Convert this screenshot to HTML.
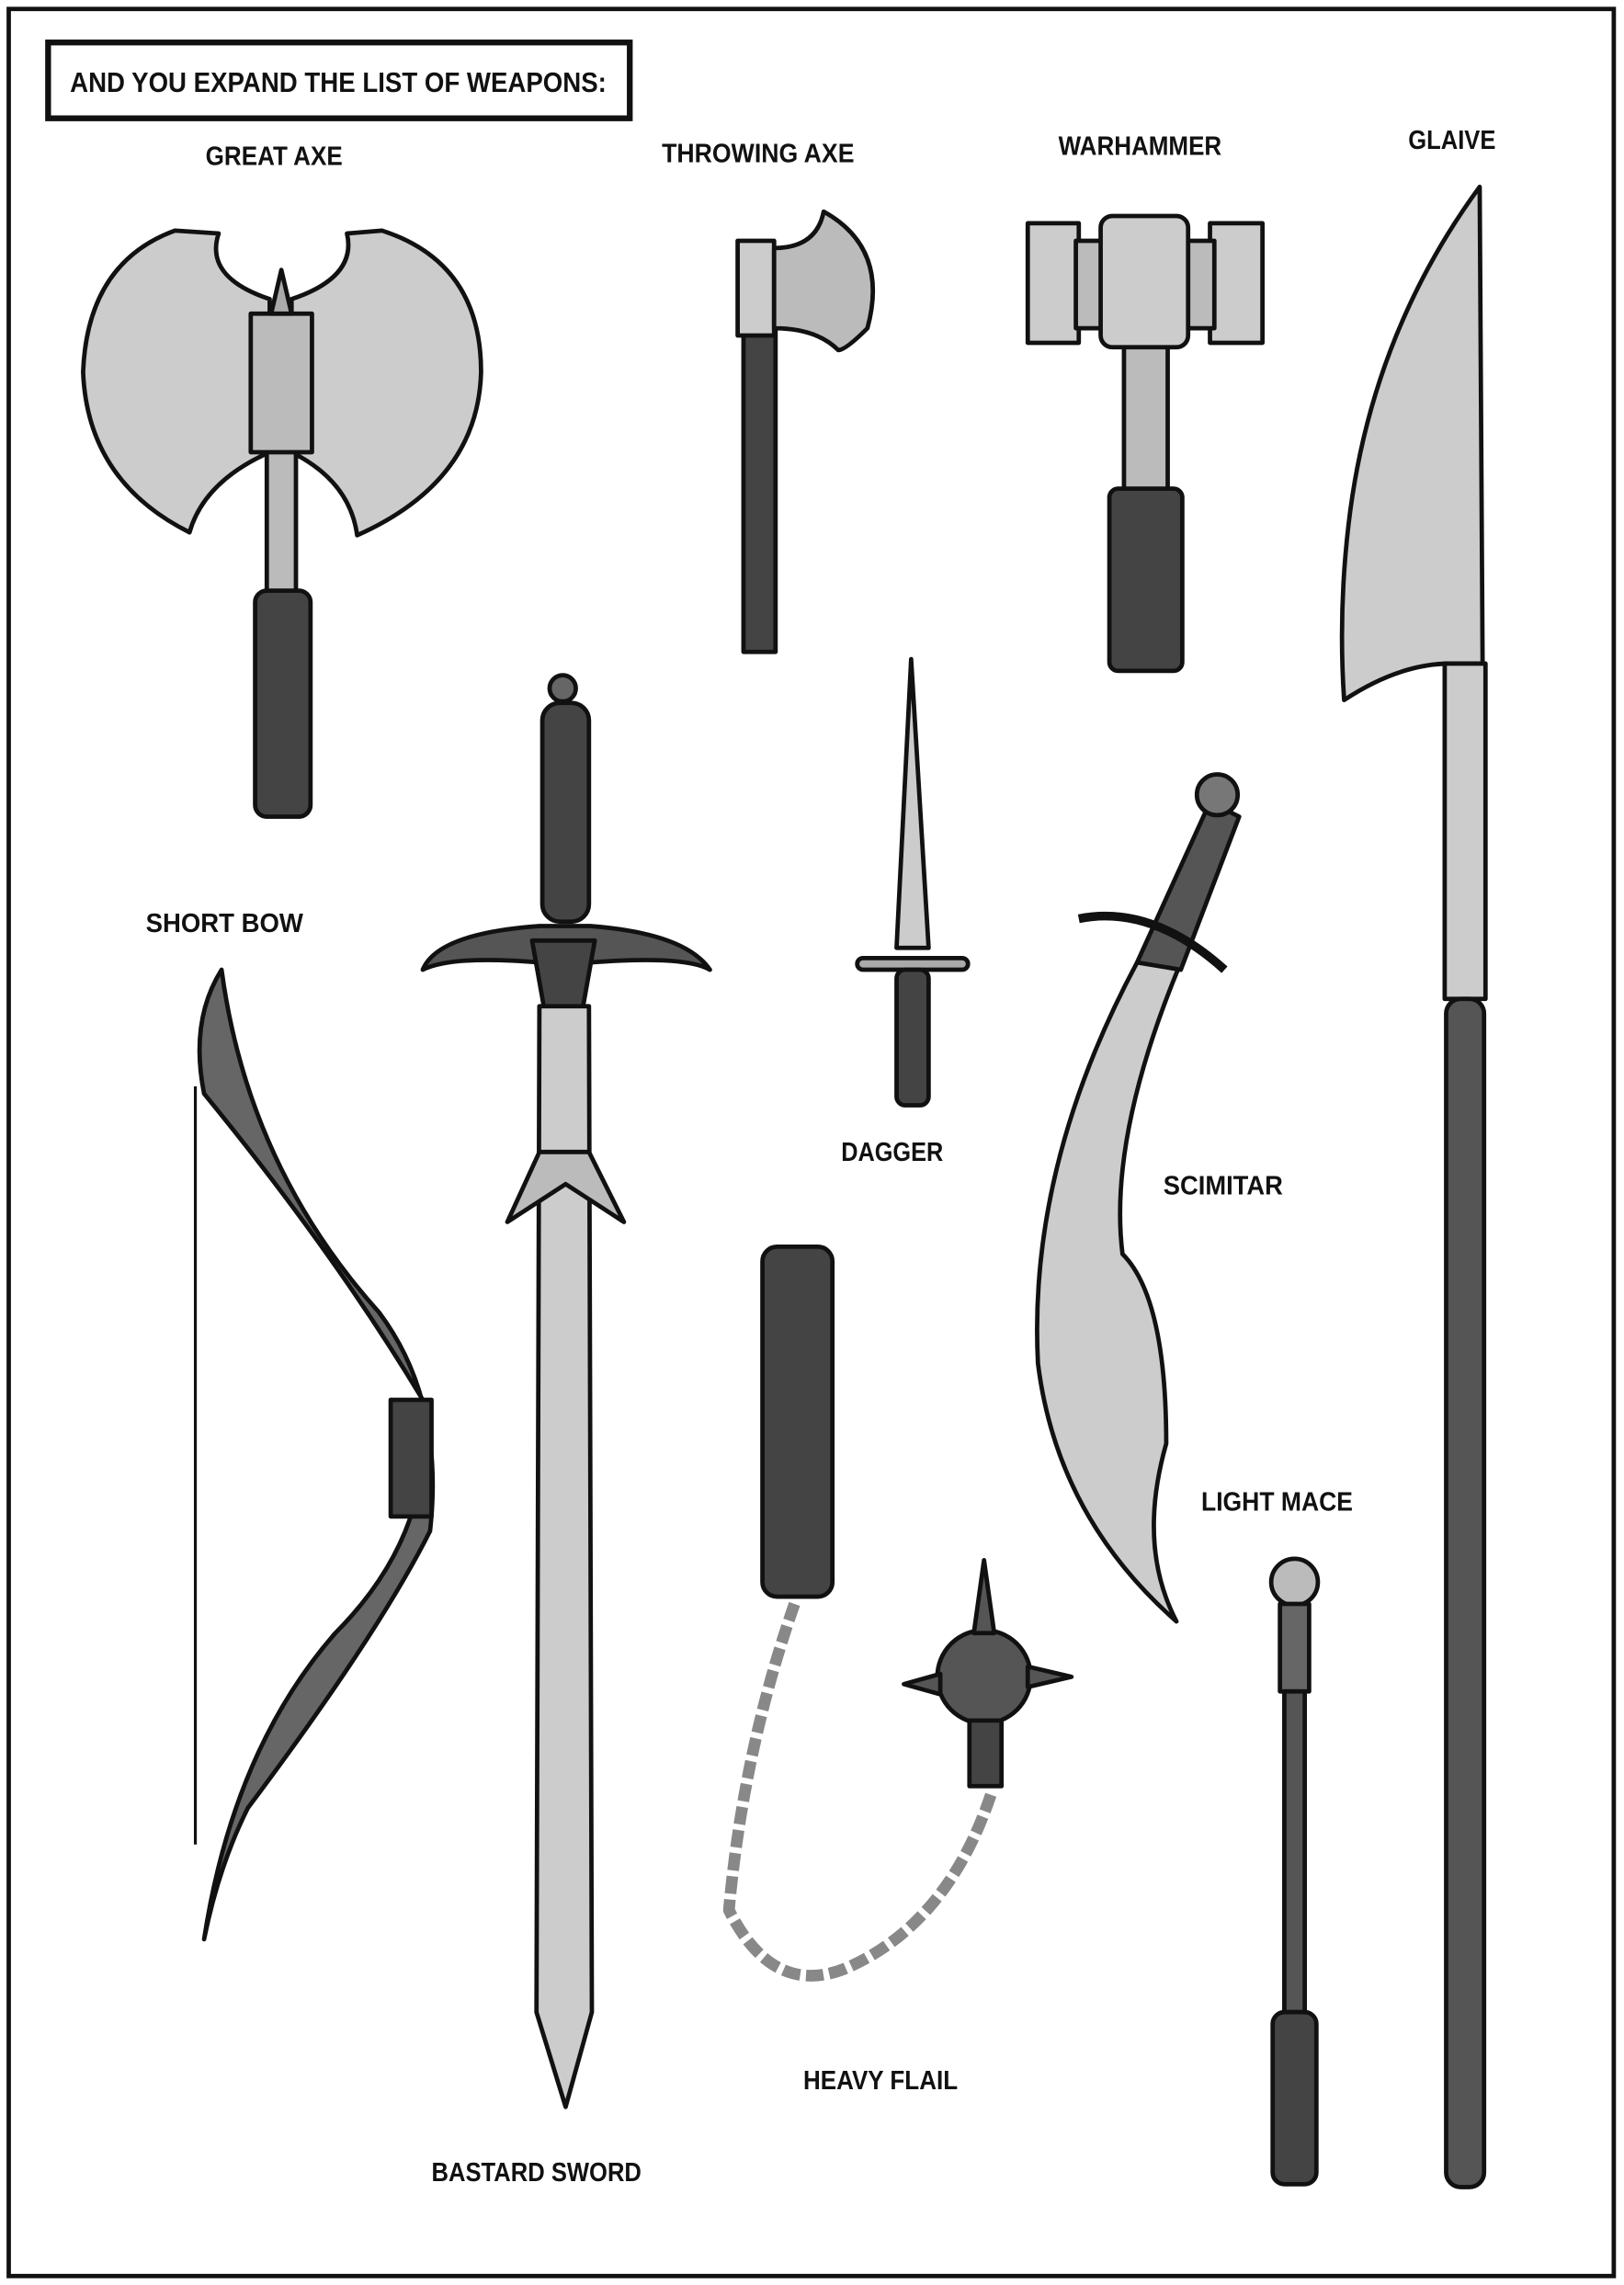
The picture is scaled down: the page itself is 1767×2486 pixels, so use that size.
<!DOCTYPE html>
<html><head><meta charset="utf-8"><style>
html,body{margin:0;padding:0;background:#fff}
svg{display:block}
text{font-family:"Liberation Sans",sans-serif;font-weight:bold;font-size:18px;text-anchor:middle;fill:#111}
</style></head><body>
<svg width="1767" height="2486" viewBox="0 0 1114 1567" xmlns="http://www.w3.org/2000/svg">
<rect x="0" y="0" width="1114" height="1567" fill="#fff"/>
<rect x="6" y="6" width="1101" height="1555" fill="none" stroke="#111" stroke-width="3"/>
<rect x="33" y="29" width="399" height="52" fill="#fff" stroke="#111" stroke-width="4"/>
<text x="232" y="63" textLength="368" lengthAdjust="spacingAndGlyphs" style="font-size:19px">AND YOU EXPAND THE LIST OF WEAPONS:</text>
<text x="188" y="113" textLength="94" lengthAdjust="spacingAndGlyphs">GREAT AXE</text>
<text x="520" y="111" textLength="132" lengthAdjust="spacingAndGlyphs">THROWING AXE</text>
<text x="782" y="106" textLength="112" lengthAdjust="spacingAndGlyphs">WARHAMMER</text>
<text x="996" y="102" textLength="60" lengthAdjust="spacingAndGlyphs">GLAIVE</text>
<text x="154" y="639" textLength="108" lengthAdjust="spacingAndGlyphs">SHORT BOW</text>
<text x="612" y="796" textLength="70" lengthAdjust="spacingAndGlyphs">DAGGER</text>
<text x="839" y="819" textLength="82" lengthAdjust="spacingAndGlyphs">SCIMITAR</text>
<text x="876" y="1036" textLength="104" lengthAdjust="spacingAndGlyphs">LIGHT MACE</text>
<text x="604" y="1433" textLength="106" lengthAdjust="spacingAndGlyphs">HEAVY FLAIL</text>
<text x="368" y="1496" textLength="144" lengthAdjust="spacingAndGlyphs">BASTARD SWORD</text>
<g stroke="#111" stroke-width="3" stroke-linejoin="round">
<path d="M120 158 Q60 180 57 255 Q60 330 130 365 Q140 330 185 310 L185 205 Q140 190 150 160 Z" fill="#ccc"/>
<path d="M262 158 Q330 180 330 255 Q328 330 245 367 Q240 330 200 310 L200 205 Q245 190 238 160 Z" fill="#ccc"/>
<rect x="183" y="300" width="20" height="110" fill="#bbb"/>
<rect x="172" y="215" width="42" height="95" fill="#bbb"/>
<path d="M186 215 L193 185 L200 215Z" fill="#aaa"/>
<rect x="175" y="405" width="38" height="155" rx="8" fill="#444"/>
<rect x="510" y="215" width="22" height="232" fill="#444"/>
<rect x="506" y="165" width="25" height="65" fill="#ccc"/>
<path d="M531 170 Q560 170 565 145 Q610 170 595 225 Q580 240 575 240 Q560 225 531 225 Z" fill="#bbb"/>
<rect x="771" y="235" width="30" height="105" fill="#bbb"/>
<rect x="761" y="335" width="50" height="125" rx="6" fill="#444"/>
<rect x="705" y="153" width="35" height="82" fill="#ccc"/>
<rect x="830" y="153" width="36" height="82" fill="#ccc"/>
<rect x="738" y="165" width="95" height="60" fill="#bbb"/>
<rect x="755" y="148" width="60" height="90" rx="8" fill="#ccc"/>
<path d="M1015 128 Q940 230 925 360 Q918 420 922 480 Q960 455 995 455 L1017 455 Z" fill="#ccc"/>
<rect x="991" y="455" width="28" height="230" fill="#ccc"/>
<rect x="992" y="685" width="26" height="815" rx="10" fill="#555"/>
<circle cx="386" cy="472" r="9" fill="#666"/>
<rect x="372" y="482" width="32" height="150" rx="12" fill="#444"/>
<path d="M290 665 Q300 640 370 635 L405 635 Q470 640 487 665 Q470 655 405 660 L370 660 Q310 655 290 665Z" fill="#555"/>
<path d="M365 645 L408 645 L400 690 L386 697 L373 690Z" fill="#444"/>
<path d="M370 690 L404 690 L406 1380 L388 1445 L368 1380 Z" fill="#ccc"/>
<path d="M348 838 L370 790 L404 790 L428 838 L388 812Z" fill="#bbb"/>
<path d="M625 452 L637 650 L615 650 Z" fill="#ccc"/>
<rect x="588" y="657" width="76" height="8" rx="4" fill="#aaa"/>
<rect x="615" y="665" width="22" height="93" rx="6" fill="#444"/>
<path d="M780 660 Q705 800 712 935 Q725 1040 807 1112 Q780 1060 800 990 Q800 890 770 860 Q760 780 810 660Z" fill="#ccc"/>
<path d="M780 660 L830 550 L850 560 L810 665Z" fill="#555"/>
<circle cx="835" cy="545" r="14" fill="#777"/>
<path d="M740 630 Q790 620 840 665" fill="none" stroke-width="6"/>
<path d="M152 665 Q130 700 140 750 Q230 860 290 960 Q300 1050 230 1120 Q160 1200 140 1330 Q150 1280 170 1240 Q260 1120 295 1050 Q305 960 260 900 Q170 800 152 665Z" fill="#666"/>
<line x1="134" y1="745" x2="134" y2="1265" stroke-width="2"/>
<rect x="268" y="960" width="28" height="80" fill="#444"/>
<rect x="523" y="855" width="48" height="240" rx="10" fill="#444"/>
<path d="M545 1100 Q510 1200 500 1310 Q530 1370 580 1350 Q650 1320 680 1230" fill="none" stroke="#888" stroke-width="8" stroke-dasharray="12 4"/>
<circle cx="675" cy="1150" r="32" fill="#555"/>
<path d="M675 1070 L668 1120 L682 1120Z M620 1155 L645 1148 L645 1162Z M735 1150 L705 1143 L705 1157Z" fill="#555"/>
<rect x="665" y="1180" width="22" height="45" fill="#444"/>
<circle cx="888" cy="1085" r="16" fill="#bbb"/>
<rect x="878" y="1100" width="20" height="60" fill="#666"/>
<rect x="881" y="1160" width="14" height="220" fill="#555"/>
<rect x="873" y="1380" width="30" height="118" rx="8" fill="#444"/>
</g>
</svg>
</body></html>
